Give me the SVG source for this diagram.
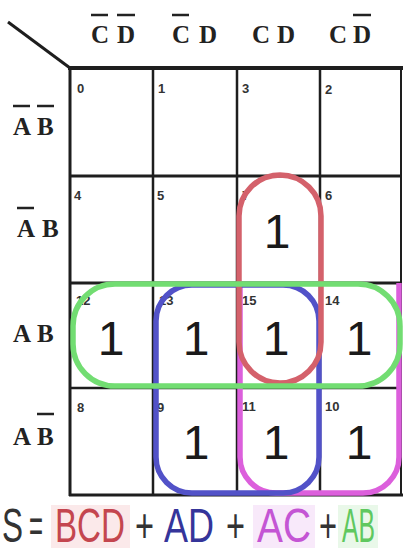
<svg xmlns="http://www.w3.org/2000/svg" width="403" height="554" viewBox="0 0 403 554">
<style>
.g{stroke:#1e1e1e;fill:none}
.hd{font-family:"Liberation Serif",serif;font-weight:bold;font-size:25px;fill:#222}
.bar{stroke:#222;stroke-width:2.5}
.num{font-family:"Liberation Sans",sans-serif;font-size:13px;fill:#333;font-weight:bold}
.one{font-family:"Liberation Sans",sans-serif;font-size:48px;fill:#1a1a1a;text-anchor:middle}
.loop{fill:none;stroke-width:5.5}
.eq{font-family:"Liberation Sans",sans-serif;font-size:34px}
</style>
<rect width="403" height="554" fill="#ffffff"/>
<g id="grid">
<line class="g" x1="8" y1="22" x2="70" y2="68" stroke-width="3"/>
<line class="g" x1="68" y1="68" x2="403" y2="68" stroke-width="4"/>
<line class="g" x1="70" y1="68" x2="70" y2="496" stroke-width="3"/>
<line class="g" x1="69" y1="495" x2="403" y2="495" stroke-width="3"/>
<line class="g" x1="401" y1="68" x2="401" y2="496" stroke-width="2"/>
<line class="g" x1="153" y1="68" x2="153" y2="495" stroke-width="2.5"/>
<line class="g" x1="237" y1="68" x2="237" y2="495" stroke-width="2.5"/>
<line class="g" x1="320" y1="68" x2="320" y2="495" stroke-width="2.5"/>
<line class="g" x1="70" y1="176" x2="401" y2="176" stroke-width="3"/>
<line class="g" x1="70" y1="283" x2="401" y2="283" stroke-width="3"/>
<line class="g" x1="70" y1="388" x2="401" y2="388" stroke-width="2.5"/>
</g>
<g id="col-labels">
<text class="hd" x="91" y="43">C</text><text class="hd" x="117" y="43">D</text>
<line class="bar" x1="91" y1="15" x2="108" y2="15"/><line class="bar" x1="117" y1="15" x2="135" y2="15"/>
<text class="hd" x="172" y="43">C</text><text class="hd" x="199" y="43">D</text>
<line class="bar" x1="172" y1="15" x2="189" y2="15"/>
<text class="hd" x="252" y="43">C</text><text class="hd" x="277" y="43">D</text>
<text class="hd" x="329" y="43">C</text><text class="hd" x="353" y="43">D</text>
<line class="bar" x1="353" y1="15" x2="371" y2="15"/>
</g>
<g id="row-labels">
<text class="hd" x="13" y="135">A</text><text class="hd" x="37" y="135">B</text>
<line class="bar" x1="13" y1="106" x2="30" y2="106"/><line class="bar" x1="37" y1="106" x2="54" y2="106"/>
<text class="hd" x="17" y="237">A</text><text class="hd" x="42" y="237">B</text>
<line class="bar" x1="17" y1="208" x2="34" y2="208"/>
<text class="hd" x="13" y="342">A</text><text class="hd" x="37" y="342">B</text>
<text class="hd" x="13" y="445">A</text><text class="hd" x="37" y="445">B</text>
<line class="bar" x1="37" y1="414" x2="54" y2="414"/>
</g>
<g id="cell-numbers">
<text class="num" x="77" y="93">0</text>
<text class="num" x="158" y="93">1</text>
<text class="num" x="242" y="93">3</text>
<text class="num" x="325" y="94">2</text>
<text class="num" x="74" y="200">4</text>
<text class="num" x="157" y="200">5</text>
<text class="num" x="242" y="200">7</text>
<text class="num" x="325" y="200">6</text>
<text class="num" x="76" y="305" fill="#4caa4c">12</text>
<text class="num" x="159" y="305" fill="#3b3bb0">13</text>
<text class="num" x="242" y="305" fill="#c04a70">15</text>
<text class="num" x="325" y="305">14</text>
<text class="num" x="77" y="412">8</text>
<text class="num" x="157" y="412">9</text>
<text class="num" x="242" y="411">11</text>
<text class="num" x="325" y="411">10</text>
</g>
<g id="loops">
<path id="loop-AC" class="loop" d="M240 283 V457 A36 36 0 0 0 276 493 H363 A36 36 0 0 0 399 457 V283" stroke="#dc5fdc"/>
<rect id="loop-AD" class="loop" x="156" y="285" width="163" height="208" rx="36" ry="36" stroke="#5252c8"/>
<rect id="loop-BCD" class="loop" x="239" y="175" width="82" height="208" rx="41" ry="41" stroke="#d4616b"/>
<rect id="loop-AB" class="loop" x="73" y="284" width="327" height="102" rx="42" ry="42" stroke="#72dd72"/>
</g>
<g id="ones">
<text class="one" x="277" y="248">1</text>
<text class="one" x="111" y="355">1</text>
<text class="one" x="196" y="355">1</text>
<text class="one" x="276" y="355">1</text>
<text class="one" x="359" y="355">1</text>
<text class="one" x="196" y="459">1</text>
<text class="one" x="276" y="459">1</text>
<text class="one" x="359" y="459">1</text>
</g>
<g id="equation">
<rect x="51" y="505" width="79" height="43" fill="#fbe9ea"/>
<rect x="253" y="505" width="62" height="43" fill="#f8e9fa"/>
<rect x="338" y="505" width="40" height="43" fill="#e9f8e9"/>
<g transform="translate(0,542) scale(1,1.42)">
<text class="eq" x="2" y="0" fill="#333" textLength="21" lengthAdjust="spacingAndGlyphs">S</text>
<text class="eq" x="29" y="0" fill="#333" textLength="14" lengthAdjust="spacingAndGlyphs">=</text>
<text class="eq" x="55" y="0" fill="#c4464f" textLength="70" lengthAdjust="spacingAndGlyphs">BCD</text>
<text class="eq" x="135" y="0" fill="#333" textLength="19" lengthAdjust="spacingAndGlyphs">+</text>
<text class="eq" x="164" y="0" fill="#35359a" textLength="50" lengthAdjust="spacingAndGlyphs">AD</text>
<text class="eq" x="226" y="0" fill="#333" textLength="19" lengthAdjust="spacingAndGlyphs">+</text>
<text class="eq" x="257" y="0" fill="#c455d4" textLength="54" lengthAdjust="spacingAndGlyphs">AC</text>
<text class="eq" x="319" y="0" fill="#333" textLength="18" lengthAdjust="spacingAndGlyphs">+</text>
<text class="eq" x="342" y="0" fill="#5fc85f" textLength="33" lengthAdjust="spacingAndGlyphs">AB</text>
</g>
</g>
</svg>
